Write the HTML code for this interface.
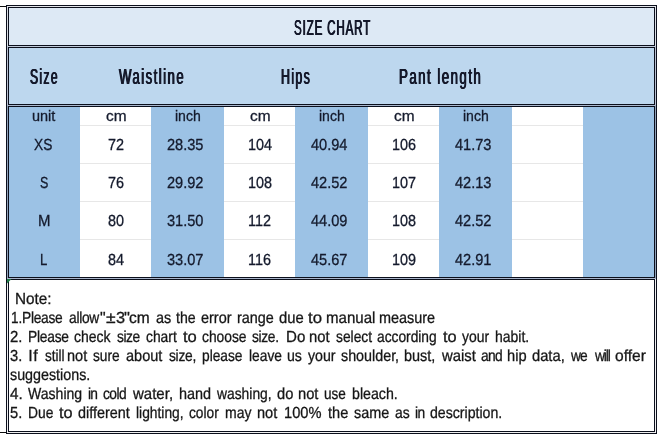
<!DOCTYPE html>
<html lang="en"><head><meta charset="utf-8"><title>Size Chart</title>
<style>
html,body{margin:0;padding:0;}
body{width:664px;height:439px;background:#fff;position:relative;overflow:hidden;
 font-family:"Liberation Sans","DejaVu Sans",sans-serif;color:#14182a;}
.a{position:absolute;}
.f{position:absolute;}
.ln{position:absolute;background:#0b0f1c;}
.g{position:absolute;background:#e7e7e7;height:1px;}
.t{position:absolute;white-space:nowrap;transform-origin:0 14.2px;font-size:15.0px;line-height:18px;height:18px;color:#141a2c;-webkit-text-stroke:0.3px #141a2c;}
.b{font-size:16px;text-rendering:geometricPrecision;}
.n{position:absolute;left:0;width:664px;white-space:nowrap;font-size:16px;text-rendering:geometricPrecision;line-height:19px;height:19px;color:#161616;-webkit-text-stroke:0.3px #161616;}
.n span{position:absolute;top:0;transform-origin:0 50%;}
.h{position:absolute;white-space:nowrap;font-weight:normal;font-size:22px;line-height:24px;height:24px;text-align:center;text-shadow:0.7px 0 0 #14182a,-0.7px 0 0 #14182a;}
.h span{display:inline-block;transform-origin:50% 50%;}
</style></head>
<body>
<div class="f" style="left:9px;top:8px;width:645px;height:37px;background:#dde9f5"></div>
<div class="f" style="left:9px;top:48px;width:645px;height:56px;background:#bdd7ee"></div>
<div class="f" style="left:9px;top:107px;width:71px;height:170px;background:#9cc2e5"></div>
<div class="f" style="left:151px;top:107px;width:73px;height:170px;background:#9cc2e5"></div>
<div class="f" style="left:295px;top:107px;width:73px;height:170px;background:#9cc2e5"></div>
<div class="f" style="left:439px;top:107px;width:73px;height:170px;background:#9cc2e5"></div>
<div class="f" style="left:583px;top:107px;width:71px;height:170px;background:#9cc2e5"></div>
<div class="g" style="left:80px;top:125px;width:71px"></div>
<div class="g" style="left:224px;top:125px;width:71px"></div>
<div class="g" style="left:368px;top:125px;width:71px"></div>
<div class="g" style="left:512px;top:125px;width:71px"></div>
<div class="g" style="left:80px;top:163px;width:71px"></div>
<div class="g" style="left:224px;top:163px;width:71px"></div>
<div class="g" style="left:368px;top:163px;width:71px"></div>
<div class="g" style="left:512px;top:163px;width:71px"></div>
<div class="g" style="left:80px;top:201px;width:71px"></div>
<div class="g" style="left:224px;top:201px;width:71px"></div>
<div class="g" style="left:368px;top:201px;width:71px"></div>
<div class="g" style="left:512px;top:201px;width:71px"></div>
<div class="g" style="left:80px;top:239px;width:71px"></div>
<div class="g" style="left:224px;top:239px;width:71px"></div>
<div class="g" style="left:368px;top:239px;width:71px"></div>
<div class="g" style="left:512px;top:239px;width:71px"></div>
<div class="ln" style="left:6px;top:5px;width:651px;height:1px;background:#0b0f1c"></div>
<div class="ln" style="left:6px;top:433px;width:651px;height:1px;background:#0b0f1c"></div>
<div class="ln" style="left:6px;top:5px;width:1px;height:429px;background:#0b0f1c"></div>
<div class="ln" style="left:656px;top:5px;width:1px;height:429px;background:#0b0f1c"></div>
<div class="ln" style="left:8px;top:7px;width:647px;height:1px;background:#0b0f1c"></div>
<div class="ln" style="left:8px;top:45px;width:647px;height:1px;background:#0b0f1c"></div>
<div class="ln" style="left:8px;top:7px;width:1px;height:39px;background:#0b0f1c"></div>
<div class="ln" style="left:654px;top:7px;width:1px;height:39px;background:#0b0f1c"></div>
<div class="ln" style="left:8px;top:47px;width:647px;height:1px;background:#0b0f1c"></div>
<div class="ln" style="left:8px;top:104px;width:647px;height:1px;background:#0b0f1c"></div>
<div class="ln" style="left:8px;top:47px;width:1px;height:58px;background:#0b0f1c"></div>
<div class="ln" style="left:654px;top:47px;width:1px;height:58px;background:#0b0f1c"></div>
<div class="ln" style="left:8px;top:106px;width:647px;height:1px;background:#0b0f1c"></div>
<div class="ln" style="left:8px;top:277px;width:647px;height:1px;background:#0b0f1c"></div>
<div class="ln" style="left:8px;top:106px;width:1px;height:172px;background:#0b0f1c"></div>
<div class="ln" style="left:654px;top:106px;width:1px;height:172px;background:#0b0f1c"></div>
<div class="ln" style="left:8px;top:279px;width:647px;height:1px;background:#0b0f1c"></div>
<div class="ln" style="left:8px;top:431px;width:647px;height:1px;background:#0b0f1c"></div>
<div class="ln" style="left:8px;top:279px;width:1px;height:153px;background:#0b0f1c"></div>
<div class="ln" style="left:654px;top:279px;width:1px;height:153px;background:#0b0f1c"></div>
<div class="ln" style="left:0px;top:6px;width:6px;height:1px;background:#111"></div>
<div class="ln" style="left:0px;top:432px;width:6px;height:1px;background:#111"></div>
<div class="ln" style="left:7px;top:6px;width:1px;height:40px;background:#dcdfe5"></div>
<div class="ln" style="left:655px;top:6px;width:1px;height:40px;background:#dcdfe5"></div>
<div class="ln" style="left:7px;top:46px;width:1px;height:59px;background:#bcc2d2"></div>
<div class="ln" style="left:655px;top:46px;width:1px;height:59px;background:#bcc2d2"></div>
<div class="ln" style="left:7px;top:105px;width:1px;height:173px;background:#93a3b9"></div>
<div class="ln" style="left:655px;top:105px;width:1px;height:173px;background:#93a3b9"></div>
<div class="ln" style="left:7px;top:278px;width:1px;height:155px;background:#f0f0f1"></div>
<div class="ln" style="left:655px;top:278px;width:1px;height:155px;background:#f0f0f1"></div>
<div class="ln" style="left:7px;top:6px;width:649px;height:1px;background:#e4e6ea"></div>
<div class="ln" style="left:7px;top:46px;width:649px;height:1px;background:#bfcad9"></div>
<div class="ln" style="left:7px;top:105px;width:649px;height:1px;background:#a9b7cd"></div>
<div class="ln" style="left:7px;top:278px;width:649px;height:1px;background:#a9b5cb"></div>
<div class="ln" style="left:7px;top:432px;width:649px;height:1px;background:#eeeeef"></div>
<svg class="a" style="left:7px;top:279px" width="5" height="5" viewBox="0 0 5 5"><polygon points="0,0 4.5,0 0,4.5" fill="#1f7a45"/></svg>
<div class="h" style="left:294.07px;top:16px;letter-spacing:1.6px;transform:scaleX(0.5269);transform-origin:0 50%;text-align:left">SIZE CHART</div>
<div class="h" style="left:30.35px;top:65px;letter-spacing:2.4px;transform:scaleX(0.5518);transform-origin:0 50%;text-align:left">Size</div>
<div class="h" style="left:119.24px;top:65px;letter-spacing:2.4px;transform:scaleX(0.6007);transform-origin:0 50%;text-align:left">Waistline</div>
<div class="h" style="left:280.68px;top:65px;letter-spacing:2.4px;transform:scaleX(0.5637);transform-origin:0 50%;text-align:left">Hips</div>
<div class="h" style="left:398.71px;top:65px;letter-spacing:2.4px;transform:scaleX(0.6049);transform-origin:0 50%;text-align:left">Pant length</div>
<div class="t" style="left:31.66px;top:106.80px;transform:scaleX(0.9653)">unit</div>
<div class="t" style="left:106.04px;top:106.80px;transform:scaleX(1.0289)">cm</div>
<div class="t" style="left:174.76px;top:106.80px;transform:scaleX(0.9358)">inch</div>
<div class="t" style="left:250.04px;top:106.80px;transform:scaleX(1.0289)">cm</div>
<div class="t" style="left:318.76px;top:106.80px;transform:scaleX(0.9358)">inch</div>
<div class="t" style="left:394.04px;top:106.80px;transform:scaleX(1.0289)">cm</div>
<div class="t" style="left:462.76px;top:106.80px;transform:scaleX(0.9358)">inch</div>
<div class="t b" style="left:34.49px;top:137.25px;transform:scaleX(0.8593)">XS</div>
<div class="t b" style="left:107.99px;top:137.25px;transform:scaleX(0.8998)">72</div>
<div class="t b" style="left:167.47px;top:137.25px;transform:scaleX(0.9110)">28.35</div>
<div class="t b" style="left:247.99px;top:137.25px;transform:scaleX(0.8998)">104</div>
<div class="t b" style="left:311.47px;top:137.25px;transform:scaleX(0.9110)">40.94</div>
<div class="t b" style="left:391.99px;top:137.25px;transform:scaleX(0.8998)">106</div>
<div class="t b" style="left:455.47px;top:137.25px;transform:scaleX(0.9110)">41.73</div>
<div class="t b" style="left:39.83px;top:175.25px;transform:scaleX(0.7817)">S</div>
<div class="t b" style="left:107.99px;top:175.25px;transform:scaleX(0.8998)">76</div>
<div class="t b" style="left:167.47px;top:175.25px;transform:scaleX(0.9110)">29.92</div>
<div class="t b" style="left:247.99px;top:175.25px;transform:scaleX(0.8998)">108</div>
<div class="t b" style="left:311.47px;top:175.25px;transform:scaleX(0.9110)">42.52</div>
<div class="t b" style="left:391.99px;top:175.25px;transform:scaleX(0.8998)">107</div>
<div class="t b" style="left:455.47px;top:175.25px;transform:scaleX(0.9110)">42.13</div>
<div class="t b" style="left:37.77px;top:213.25px;transform:scaleX(0.9343)">M</div>
<div class="t b" style="left:107.99px;top:213.25px;transform:scaleX(0.8998)">80</div>
<div class="t b" style="left:167.47px;top:213.25px;transform:scaleX(0.9110)">31.50</div>
<div class="t b" style="left:247.99px;top:213.25px;transform:scaleX(0.8998)">112</div>
<div class="t b" style="left:311.47px;top:213.25px;transform:scaleX(0.9110)">44.09</div>
<div class="t b" style="left:391.99px;top:213.25px;transform:scaleX(0.8998)">108</div>
<div class="t b" style="left:455.47px;top:213.25px;transform:scaleX(0.9110)">42.52</div>
<div class="t b" style="left:40.35px;top:252.25px;transform:scaleX(0.8209)">L</div>
<div class="t b" style="left:107.99px;top:252.25px;transform:scaleX(0.8998)">84</div>
<div class="t b" style="left:167.47px;top:252.25px;transform:scaleX(0.9110)">33.07</div>
<div class="t b" style="left:247.99px;top:252.25px;transform:scaleX(0.8998)">116</div>
<div class="t b" style="left:311.47px;top:252.25px;transform:scaleX(0.9110)">45.67</div>
<div class="t b" style="left:391.99px;top:252.25px;transform:scaleX(0.8998)">109</div>
<div class="t b" style="left:455.47px;top:252.25px;transform:scaleX(0.9110)">42.91</div>
<div class="n" style="top:289.91px">&nbsp;<span style="left:15.15px;transform:scaleX(0.9558)">Note:</span></div>
<div class="n" style="top:308.91px"><span style="left:10.67px;transform:scaleX(0.8440)">1.</span><span style="left:22.47px;letter-spacing:-0.31px;transform:scaleX(0.8600)">Please</span> <span style="left:69.37px;letter-spacing:-0.32px;transform:scaleX(0.8600)">allow</span><span style="left:100.02px;transform:scaleX(0.9953)">&quot;</span><span style="left:105.74px;transform:scaleX(1.0935)">±</span><span style="left:115.68px;transform:scaleX(1.0150)">3</span><span style="left:124.29px;transform:scaleX(1.0416)">&quot;</span><span style="left:129.49px;transform:scaleX(0.9697)">cm</span> <span style="left:156.09px;transform:scaleX(0.9015)">as</span> <span style="left:176.19px;transform:scaleX(0.8831)">the</span> <span style="left:200.99px;transform:scaleX(0.9015)">error</span> <span style="left:237.14px;transform:scaleX(0.8991)">range</span> <span style="left:278.98px;transform:scaleX(0.9244)">due</span> <span style="left:307.85px;transform:scaleX(1.0459)">to</span> <span style="left:325.60px;transform:scaleX(0.9415)">manual</span> <span style="left:379.39px;transform:scaleX(0.9012)">measure</span></div>
<div class="n" style="top:327.91px"><span style="left:10.25px;transform:scaleX(0.9298)">2.</span> <span style="left:27.82px;letter-spacing:-0.26px;transform:scaleX(0.8600)">Please</span> <span style="left:74.41px;transform:scaleX(0.8726)">check</span> <span style="left:117.02px;letter-spacing:-0.55px;transform:scaleX(0.8600)">size</span> <span style="left:146.26px;transform:scaleX(0.8642)">chart</span> <span style="left:183.05px;transform:scaleX(1.0338)">to</span> <span style="left:201.66px;transform:scaleX(0.8635)">choose</span> <span style="left:252.17px;letter-spacing:-0.38px;transform:scaleX(0.8600)">size.</span> <span style="left:285.56px;transform:scaleX(0.9421)">Do</span> <span style="left:308.62px;transform:scaleX(0.9258)">not</span> <span style="left:335.57px;transform:scaleX(0.8621)">select</span> <span style="left:377.42px;transform:scaleX(0.8601)">according</span> <span style="left:442.75px;transform:scaleX(1.0217)">to</span> <span style="left:461.62px;transform:scaleX(0.8712)">your</span> <span style="left:495.43px;transform:scaleX(0.8723)">habit.</span></div>
<div class="n" style="top:346.91px"><span style="left:10.44px;transform:scaleX(0.9137)">3.</span> <span style="left:28.22px;letter-spacing:0.56px;transform:scaleX(1.0000)">If</span> <span style="left:44.52px;transform:scaleX(0.8475)">still</span> <span style="left:67.14px;transform:scaleX(0.9068)">not</span> <span style="left:93.22px;transform:scaleX(0.8576)">sure</span> <span style="left:125.98px;transform:scaleX(0.9072)">about</span> <span style="left:169.07px;letter-spacing:-0.31px;transform:scaleX(0.8600)">size,</span> <span style="left:201.66px;transform:scaleX(0.8589)">please</span> <span style="left:248.77px;transform:scaleX(0.8612)">leave</span> <span style="left:286.68px;transform:scaleX(0.8834)">us</span> <span style="left:308.17px;transform:scaleX(0.8858)">your</span> <span style="left:341.40px;transform:scaleX(0.8946)">shoulder,</span> <span style="left:404.47px;transform:scaleX(0.9032)">bust,</span> <span style="left:441.82px;transform:scaleX(0.9296)">waist</span> <span style="left:480.62px;letter-spacing:-0.81px;transform:scaleX(0.8600)">and</span> <span style="left:507.39px;transform:scaleX(0.9147)">hip</span> <span style="left:532.18px;transform:scaleX(0.9200)">data,</span> <span style="left:571.37px;letter-spacing:-1.22px;transform:scaleX(0.8600)">we</span> <span style="left:595.02px;letter-spacing:-1.24px;transform:scaleX(0.8600)">will</span> <span style="left:614.95px;transform:scaleX(0.9717)">offer</span></div>
<div class="n" style="top:365.91px"><span style="left:10.40px;transform:scaleX(0.8939)">suggestions.</span></div>
<div class="n" style="top:384.81px"><span style="left:9.95px;transform:scaleX(0.9552)">4.</span> <span style="left:28.24px;transform:scaleX(0.8782)">Washing</span> <span style="left:88.38px;letter-spacing:-1.04px;transform:scaleX(0.8600)">in</span> <span style="left:103.22px;letter-spacing:-0.65px;transform:scaleX(0.8600)">cold</span> <span style="left:132.87px;transform:scaleX(0.9382)">water,</span> <span style="left:178.90px;transform:scaleX(0.9028)">hand</span> <span style="left:216.87px;transform:scaleX(0.8650)">washing,</span> <span style="left:276.83px;transform:scaleX(0.9178)">do</span> <span style="left:297.77px;transform:scaleX(0.9187)">not</span> <span style="left:324.07px;transform:scaleX(0.8483)">use</span> <span style="left:351.94px;transform:scaleX(0.8859)">bleach.</span></div>
<div class="n" style="top:403.71px"><span style="left:10.41px;transform:scaleX(0.9162)">5.</span> <span style="left:28.17px;transform:scaleX(0.8636)">Due</span> <span style="left:59.45px;transform:scaleX(1.0177)">to</span> <span style="left:78.25px;transform:scaleX(0.8988)">different</span> <span style="left:136.32px;transform:scaleX(0.8626)">lighting,</span> <span style="left:189.42px;transform:scaleX(0.8567)">color</span> <span style="left:224.87px;transform:scaleX(0.8736)">may</span> <span style="left:256.88px;transform:scaleX(0.9116)">not</span> <span style="left:283.89px;transform:scaleX(0.9148)">100%</span> <span style="left:327.78px;transform:scaleX(0.9113)">the</span> <span style="left:353.65px;transform:scaleX(0.9007)">same</span> <span style="left:394.91px;transform:scaleX(0.8695)">as</span> <span style="left:414.88px;letter-spacing:-0.63px;transform:scaleX(0.8600)">in</span> <span style="left:430.46px;transform:scaleX(0.8828)">description.</span></div>
</body></html>
